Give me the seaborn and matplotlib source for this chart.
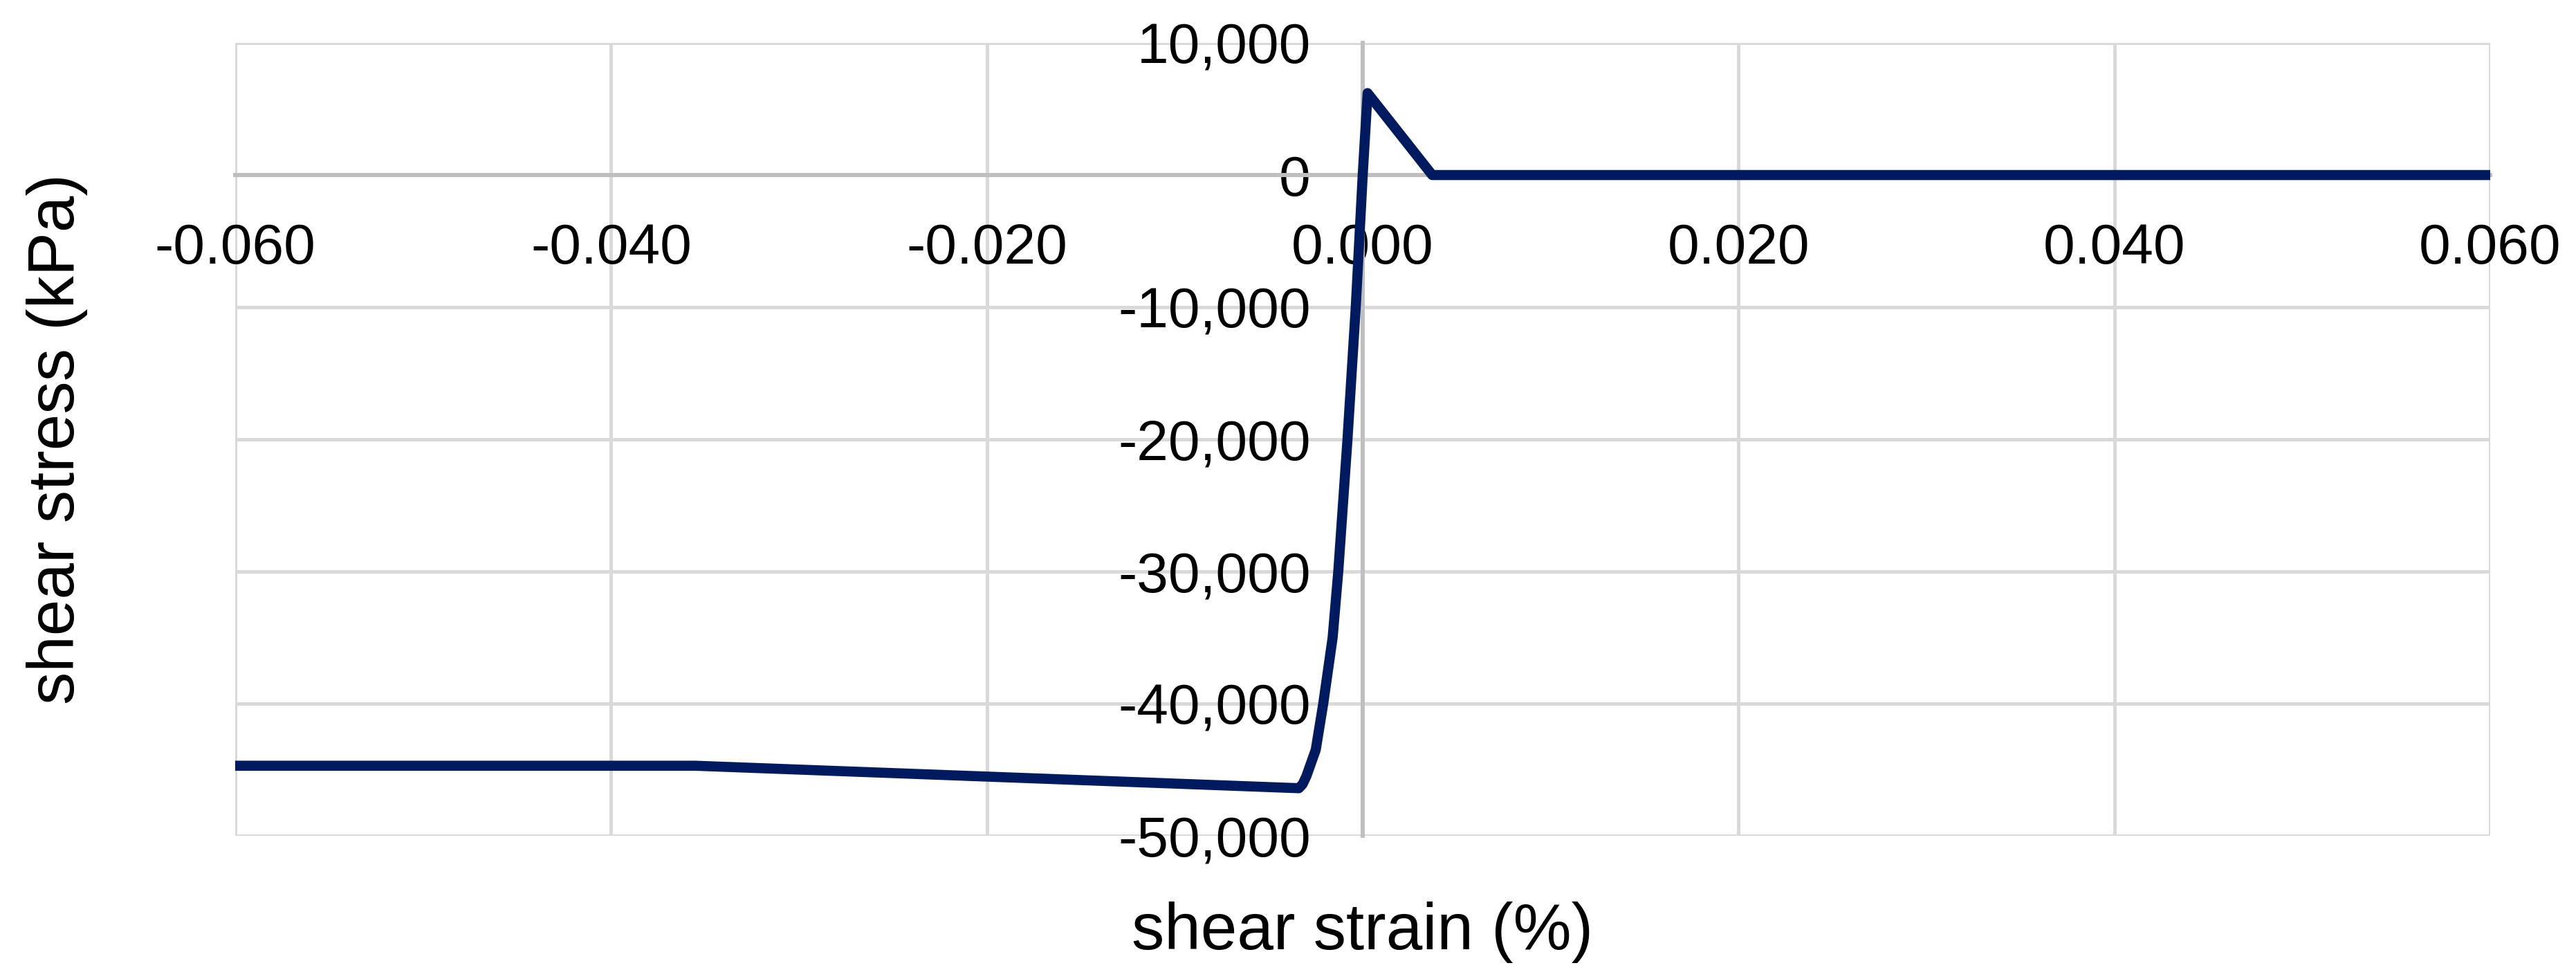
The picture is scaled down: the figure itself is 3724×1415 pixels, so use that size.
import numpy as np
import pandas as pd
import seaborn as sns
from matplotlib import pyplot as plt
from matplotlib.ticker import FuncFormatter, MultipleLocator

# valores
deformacion = [-0.060, -0.0355, -0.0034, -0.0032, -0.0030, -0.0028, -0.0025,
               -0.0021, -0.0016, -0.0013, -0.00081, -0.00037, 0.0000,
               0.00026, 0.0037, 0.060]
tension = [-44700, -44700, -46400, -46100, -45500, -44700, -43500,
           -40000, -35000, -30000, -20000, -10000, 0,
           6200, 0, 0]

sns.set_style("white")
plt.rcParams['font.family'] = ['Liberation Sans', 'DejaVu Sans']
plt.rcParams['axes.unicode_minus'] = False

df = pd.DataFrame(data={"deformacion": deformacion, "tension": tension})

fig = plt.figure(figsize=(37.24, 14.15), dpi=100)
ax = fig.add_axes([340 / 3724, 1 - 1208 / 1415, 3260 / 3724, 1146 / 1415])

sns.lineplot(data=df, x="deformacion", y="tension", sort=False, estimator=None,
             color="#001a5f", linewidth=10.5, ax=ax, zorder=3)
ax.lines[0].set_solid_joinstyle("round")

ax.set_xlim(-0.06, 0.06)
ax.set_ylim(-50000, 10000)
ax.xaxis.set_major_locator(MultipleLocator(0.02))
ax.yaxis.set_major_locator(MultipleLocator(10000))
ax.xaxis.set_major_formatter(FuncFormatter(lambda v, p: f"{v:.3f}" if abs(v) > 1e-9 else "0.000"))
ax.yaxis.set_major_formatter(FuncFormatter(lambda v, p: f"{v:,.0f}"))

ax.grid(True, color="#d9d9d9", linewidth=3.6)
for lado in ["top", "right"]:
    ax.spines[lado].set_visible(False)
ax.spines["left"].set_position(("data", 0))
ax.spines["bottom"].set_position(("data", 0))
for lado in ["left", "bottom"]:
    ax.spines[lado].set_color("#bfbfbf")
    ax.spines[lado].set_linewidth(4.3)
    ax.spines[lado].set_zorder(2.6)

ax.tick_params(axis="x", length=0, pad=50, labelsize=59, labelcolor="black")
ax.tick_params(axis="y", length=0, pad=54, labelsize=59, labelcolor="black")

ax.set_xlabel("shear strain (%)", fontsize=68, va="center", color="black")
ax.set_ylabel("shear stress (kPa)", fontsize=68, va="center", color="black")
ax.xaxis.set_label_coords(0.5, (1208 - 1347) / 1146)
ax.yaxis.set_label_coords((83 - 340) / 3260, 0.5)

fig.savefig("out.png", dpi=100, facecolor="white")
